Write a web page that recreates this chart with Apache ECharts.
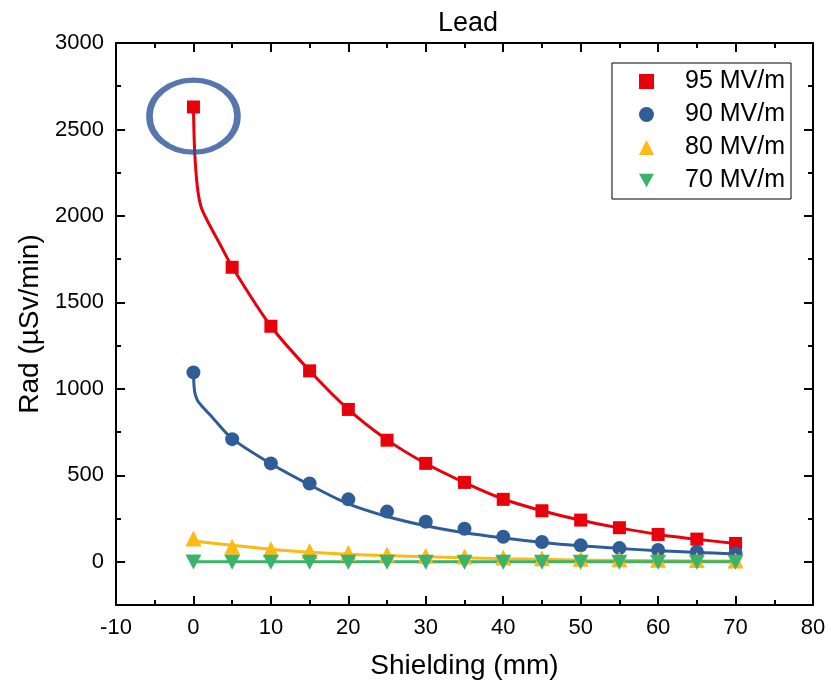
<!DOCTYPE html>
<html>
<head>
<meta charset="utf-8">
<script src="https://cdn.jsdelivr.net/npm/echarts@6/dist/echarts.min.js"></script>
<style>html,body{margin:0;padding:0;background:#fff}#c{width:831px;height:690px}</style>
</head>
<body>
<div id="c"></div>
<script>
// ---- data ----
const titleText = 'Lead';
const xName = 'Shielding (mm)';
const yName = 'Rad (\u00B5Sv/min)';
const seriesNames = ['95 MV/m', '90 MV/m', '80 MV/m', '70 MV/m'];

const xMarkers = [0, 5, 10, 15, 20, 25, 30, 35, 40, 45, 50, 55, 60, 65, 70];
const red95 = [2630, 1703, 1362, 1104, 881, 703, 569, 459, 361, 295, 241, 197, 158, 131, 106];
const blue90 = [1095, 709, 569, 453, 361, 290, 231, 191, 145, 114, 95, 79, 68, 58, 48];
const yellow80 = [135, 87, 73, 62, 50, 42, 35, 30, 25, 20, 17, 14, 12, 10, 8];
const green70 = [-2, -3, -3, -3, -3, -3, -3, -3, -3, -3, -3, -3, -3, -3, -3];

// fitted curves
const redFitX = [0, 0.15, 0.5, 1, 2, 3.5, 5, 10, 15, 20, 25, 30, 35, 40, 45, 50, 55, 60, 65, 70];
const redFit = [2630, 2380, 2170, 2050, 1955, 1830, 1705, 1362, 1105, 881, 705, 568, 458, 363, 295, 240, 196, 158, 130, 106];
const blueFitX = [0, 0.15, 0.5, 1, 2.5, 5, 10, 15, 20, 25, 30, 35, 40, 45, 50, 55, 60, 65, 70];
const blueFit = [1095, 985, 935, 905, 832, 712, 567, 445, 335, 262, 208, 168, 138, 112, 92, 77, 64, 54, 45];
const yellowFit = [120, 95, 73, 55, 43, 36, 29, 23, 18, 14, 10, 8, 6, 5, 4];
const greenFit = [0, 0, 0, 0, 0, 0, 0, 0, 0, 0, 0, 0, 0, 0, 0];

// highlighted point (ellipse annotation centre)
const highlight = [[0, 2577]];

const yMajor = [0, 500, 1000, 1500, 2000, 2500, 3000];
const yMinor = [250, 750, 1250, 1750, 2250, 2750];

// ---- build ----
const colors = ['#e8000b', '#2f5d97', '#fdb914', '#3cb36a'];
const zip = (xs, ys) => xs.map((x, i) => [x, ys[i]]);
const font = 'Liberation Sans, Arial, sans-serif';
const downTri = 'path://M0,0 L10,0 L5,9 Z';

function xAx(pos, labels) {
  return {
    type: 'value', position: pos, min: -10, max: 80, interval: 10,
    name: labels ? xName : '', nameLocation: 'middle', nameGap: 47,
    nameTextStyle: { fontSize: 28, color: '#000', fontFamily: font },
    axisLine: { show: true, onZero: false, lineStyle: { color: '#000', width: 2 } },
    axisTick: { show: true, inside: true, length: 9, lineStyle: { color: '#000', width: 2 } },
    minorTick: { show: true, splitNumber: 2, length: 5, lineStyle: { color: '#000', width: 2 } },
    axisLabel: { show: labels, color: '#000', fontSize: 22, fontFamily: font, margin: 12 },
    splitLine: { show: false }, minorSplitLine: { show: false }
  };
}
function yAx(pos, vals, len, labels, name) {
  return {
    type: 'value', position: pos, min: -250, max: 3000,
    name: name ? yName : '', nameLocation: 'middle', nameGap: 71,
    nameTextStyle: { fontSize: 28, color: '#000', fontFamily: font },
    axisLine: { show: true, onZero: false, lineStyle: { color: '#000', width: 2 } },
    axisTick: { show: true, inside: true, length: len, customValues: vals, lineStyle: { color: '#000', width: 2 } },
    axisLabel: { show: labels, customValues: vals, color: '#000', fontSize: 22, fontFamily: font, margin: 12,
      formatter: v => String(v) },
    splitLine: { show: false }
  };
}

const series = [];
const fits = [[redFitX, redFit], [blueFitX, blueFit], [xMarkers, yellowFit], [xMarkers, greenFit]];
fits.forEach((f, i) => {
  series.push({
    type: 'line', name: seriesNames[i] + ' fit', data: zip(f[0], f[1]),
    showSymbol: false, symbol: 'none', smooth: 0.3, z: 2,
    lineStyle: { color: colors[i], width: 3 }, silent: true
  });
});
const marks = [red95, blue90, yellow80, green70];
const syms = ['rect', 'circle', 'triangle', downTri];
const sizes = [13, 14, 16, [16, 15]];
marks.forEach((m, i) => {
  series.push({
    type: 'scatter', name: seriesNames[i], data: zip(xMarkers, m),
    symbol: syms[i], symbolSize: sizes[i],
    itemStyle: { color: colors[i], opacity: 1 }, z: 3
  });
});
series.push({
  type: 'scatter', name: 'highlight', data: highlight, symbol: 'circle',
  symbolSize: [88, 72], silent: true, z: 4,
  itemStyle: { color: 'rgba(0,0,0,0)', borderColor: '#2d5499', borderWidth: 6 }
});

const chart = echarts.init(document.getElementById('c'), null, { renderer: 'canvas' });
chart.setOption({
  animation: false,
  backgroundColor: '#fff',
  title: { text: titleText, left: 463, textAlign: 'center', top: 5,
    textStyle: { fontSize: 27, fontWeight: 'normal', color: '#000', fontFamily: font } },
  grid: { left: 116, right: 18, top: 43, bottom: 85 },
  legend: {
    data: seriesNames, orient: 'vertical', right: 40, top: 63,
    borderColor: '#000', borderWidth: 1, padding: [6, 6, 6, 27],
    itemGap: 8, itemWidth: 15, itemHeight: 15,
    textStyle: { fontSize: 25, color: '#000', fontFamily: font, padding: [0, 0, 0, 26] }
  },
  xAxis: [xAx('bottom', true), xAx('top', false)],
  yAxis: [yAx('left', yMajor, 9, true, true), yAx('left', yMinor, 5, false, false),
          yAx('right', yMajor, 9, false, false), yAx('right', yMinor, 5, false, false)],
  series: series
});
</script>
</body>
</html>
